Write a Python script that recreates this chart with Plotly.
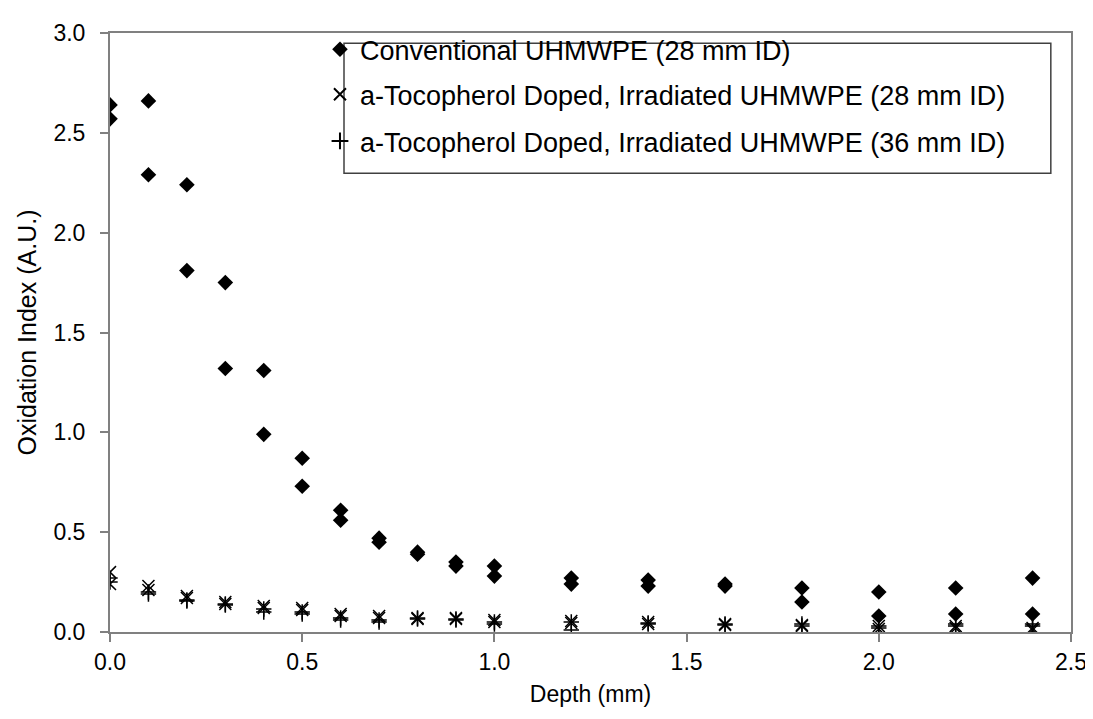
import plotly.graph_objects as go

# Data
conv_depth = [0.0, 0.1, 0.2, 0.3, 0.4, 0.5, 0.6, 0.7, 0.8, 0.9, 1.0, 1.2, 1.4, 1.6, 1.8, 2.0, 2.2, 2.4]
conv_a = [2.64, 2.66, 2.24, 1.75, 1.31, 0.87, 0.61, 0.47, 0.40, 0.35, 0.33, 0.27, 0.26, 0.24, 0.22, 0.20, 0.22, 0.27]
conv_b = [2.57, 2.29, 1.81, 1.32, 0.99, 0.73, 0.56, 0.45, 0.39, 0.33, 0.28, 0.24, 0.23, 0.23, 0.15, 0.08, 0.09, 0.09]

toco_depth = [0.0, 0.1, 0.2, 0.3, 0.4, 0.5, 0.6, 0.7, 0.8, 0.9, 1.0, 1.2, 1.4, 1.6, 1.8, 2.0, 2.2, 2.4]
toco28_a = [0.30, 0.23, 0.18, 0.15, 0.13, 0.12, 0.09, 0.08, 0.07, 0.07, 0.06, 0.055, 0.05, 0.04, 0.035, 0.03, 0.03, 0.02]
toco28_b = [0.24, 0.21, 0.17, 0.14, 0.12, 0.11, 0.08, 0.07, 0.065, 0.065, 0.05, 0.045, 0.04, 0.035, 0.03, 0.015, 0.02, 0.01]
toco36_a = [0.27, 0.19, 0.155, 0.135, 0.115, 0.09, 0.07, 0.06, 0.065, 0.06, 0.04, 0.01, 0.04, 0.04, 0.03, 0.02, 0.03, 0.03]
toco36_b = [0.25, 0.20, 0.16, 0.14, 0.10, 0.10, 0.06, 0.05, 0.07, 0.065, 0.05, 0.05, 0.045, 0.035, 0.04, 0.03, 0.04, 0.04]

series_names = [
    "Conventional UHMWPE (28 mm ID)",
    "a-Tocopherol Doped, Irradiated UHMWPE (28 mm ID)",
    "a-Tocopherol Doped, Irradiated UHMWPE (36 mm ID)",
]

x_ticks = [0.0, 0.5, 1.0, 1.5, 2.0, 2.5]
y_ticks = [0.0, 0.5, 1.0, 1.5, 2.0, 2.5, 3.0]

FONT = "Liberation Sans, Arial, sans-serif"

fig = go.Figure()
fig.add_trace(go.Scatter(
    x=conv_depth + conv_depth, y=conv_a + conv_b, mode="markers",
    name=series_names[0], legend="legend", showlegend=True,
    marker=dict(symbol="diamond", size=12, color="black", line=dict(width=0)),
))
fig.add_trace(go.Scatter(
    x=toco_depth + toco_depth, y=toco28_a + toco28_b, mode="markers",
    name=series_names[1], legend="legend2", showlegend=True,
    marker=dict(symbol="x-thin", size=12, color="black", line=dict(width=1.5, color="black")),
))
fig.add_trace(go.Scatter(
    x=toco_depth + toco_depth, y=toco36_a + toco36_b, mode="markers",
    name=series_names[2], legend="legend3", showlegend=True,
    marker=dict(symbol="cross-thin", size=11, color="black", line=dict(width=1.5, color="black")),
))

legend_common = dict(
    xanchor="left", yanchor="middle", x=0.2185,
    bgcolor="rgba(0,0,0,0)", borderwidth=0,
    font=dict(family=FONT, size=27, color="black"),
    itemsizing="constant", visible=True,
)

fig.update_layout(
    width=1093, height=719,
    showlegend=True,
    margin=dict(l=102, r=30, t=21, b=95),
    paper_bgcolor="white", plot_bgcolor="white",
    font=dict(family=FONT, size=23, color="black"),
    legend=dict(y=0.972, **legend_common),
    legend2=dict(y=0.897, **legend_common),
    legend3=dict(y=0.819, **legend_common),
    xaxis=dict(
        range=[0, 2.5], tickvals=x_ticks, ticktext=[f"{v:.1f}" for v in x_ticks],
        showgrid=False, zeroline=False, showline=True, linecolor="#808080", linewidth=2,
        mirror=True, ticks="outside", ticklen=8, tickcolor="#808080", tickwidth=2,
        title=dict(text="Depth (mm)", font=dict(size=23), standoff=12),
        tickfont=dict(size=23),
    ),
    yaxis=dict(
        range=[0, 3.0], tickvals=y_ticks, ticktext=[f"{v:.1f}" for v in y_ticks],
        showgrid=False, zeroline=False, showline=True, linecolor="#808080", linewidth=2,
        mirror=True, ticks="outside", ticklen=8, tickcolor="#808080", tickwidth=2,
        ticklabelstandoff=10,
        title=dict(text="Oxidation Index (A.U.)", font=dict(size=25), standoff=10),
        tickfont=dict(size=23),
    ),
    shapes=[dict(
        type="rect", xref="paper", yref="paper",
        x0=0.2435, x1=0.979, y0=0.766, y1=0.983,
        line=dict(color="#404040", width=1.5), fillcolor="rgba(0,0,0,0)",
    )],
)

fig.write_html("out.html")
